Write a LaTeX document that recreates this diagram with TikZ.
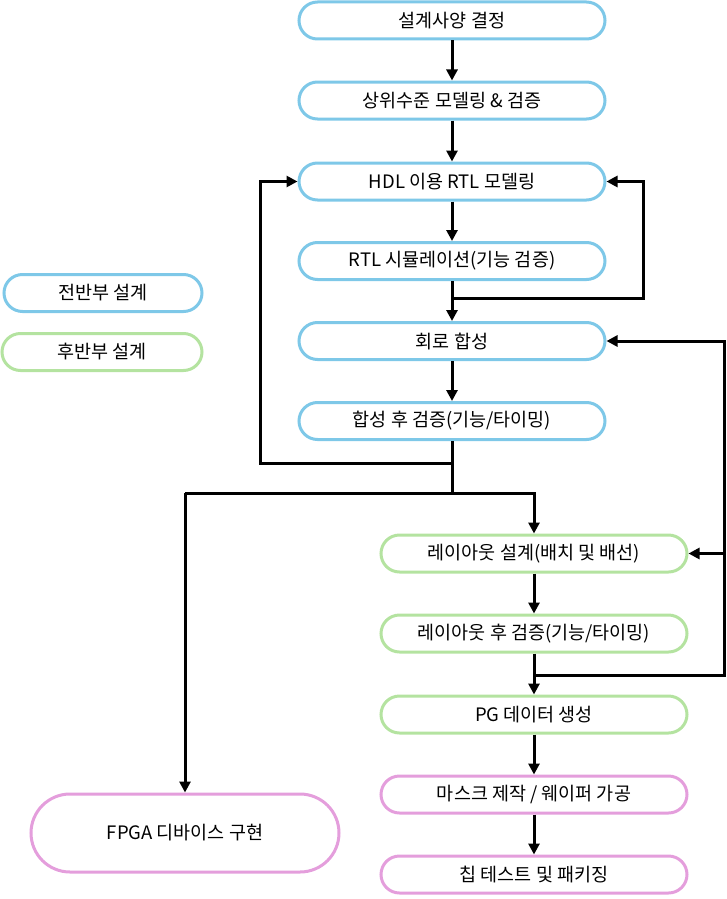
\documentclass[tikz,border=0pt]{standalone}
\usepackage{fontspec}
\setmainfont{Noto Sans CJK KR}
\usetikzlibrary{arrows.meta}
\definecolor{cblue}{HTML}{7EC8E8}
\definecolor{cgreen}{HTML}{B4E3A0}
\definecolor{cpink}{HTML}{E49EDC}
\begin{document}
\begin{tikzpicture}[x=1pt,y=-1pt,
  box/.style={draw, line width=3pt, rectangle, minimum width=306pt, minimum height=37pt,
    rounded corners=18.5pt, inner sep=0pt, font=\fontsize{18.5}{20}\selectfont, fill=white},
  fbox/.style={box, draw=cblue},
  bbox/.style={box, draw=cgreen},
  pbox/.style={box, draw=cpink},
  arr/.style={line width=3pt, -{Triangle[length=11pt,width=11pt]}},
  ln/.style={line width=3pt},
]
\useasboundingbox (0,0) rectangle (727,899);
% legend
\node[fbox, minimum width=198pt] (lg1) at (103,293) {전반부 설계};
\node[bbox, minimum width=200pt] (lg2) at (102,352) {후반부 설계};
% front end
\node[fbox] (n1) at (452,20.5) {설계사양 결정};
\node[fbox] (n2) at (452,100.5) {상위수준 모델링 \& 검증};
\node[fbox] (n3) at (452,181.5) {HDL 이용 RTL 모델링};
\node[fbox] (n4) at (452,261) {RTL 시뮬레이션(기능 검증)};
\node[fbox] (n5) at (452,341) {회로 합성};
\node[fbox] (n6) at (452,421) {합성 후 검증(기능/타이밍)};
% back end
\node[bbox] (n7) at (534,553.5) {레이아웃 설계(배치 및 배선)};
\node[bbox] (n8) at (534,633.5) {레이아웃 후 검증(기능/타이밍)};
\node[bbox] (n9) at (534,714.5) {PG 데이터 생성};
\node[pbox] (n10) at (534,794.5) {마스크 제작 / 웨이퍼 가공};
\node[pbox] (n11) at (534,874.5) {칩 테스트 및 패키징};
\node[pbox, minimum width=308pt, minimum height=78pt, rounded corners=39pt] (fp) at (185,833) {FPGA 디바이스 구현};
% coordinates
\coordinate (j1) at (452,298);
\coordinate (r1) at (643,181.5);
\coordinate (j2) at (452,463);
\coordinate (l1) at (260,181.5);
\coordinate (j3) at (452,493);
\coordinate (a7) at (534,493);
\coordinate (af) at (185,493);
\coordinate (j4) at (534,675);
\coordinate (r2) at (724,341);
\coordinate (r3) at (724,553.5);
% connectors
\draw[arr] (n1) -- (n2);
\draw[arr] (n2) -- (n3);
\draw[arr] (n3) -- (n4);
\draw[arr] (n4) -- (n5);
\draw[arr] (j1) -- (j1 -| r1) -- (r1) -- (n3.east);
\draw[arr] (n5) -- (n6);
\draw[arr] (n6.south) -- (j2) -- (j2 -| l1) -- (l1) -- (n3.west);
\draw[ln] (j2) -- (j3);
\draw[arr] (af) -- (a7) -- (n7.north);
\draw[arr] (af) -- (fp.north);
\draw[arr] (n7) -- (n8);
\draw[arr] (n8) -- (n9);
\draw[arr] (j4) -- (j4 -| r2) -- (r2) -- (n5.east);
\draw[arr] (r3) -- (n7.east);
\draw[arr] (n9) -- (n10);
\draw[arr] (n10) -- (n11);
\end{tikzpicture}
\end{document}
